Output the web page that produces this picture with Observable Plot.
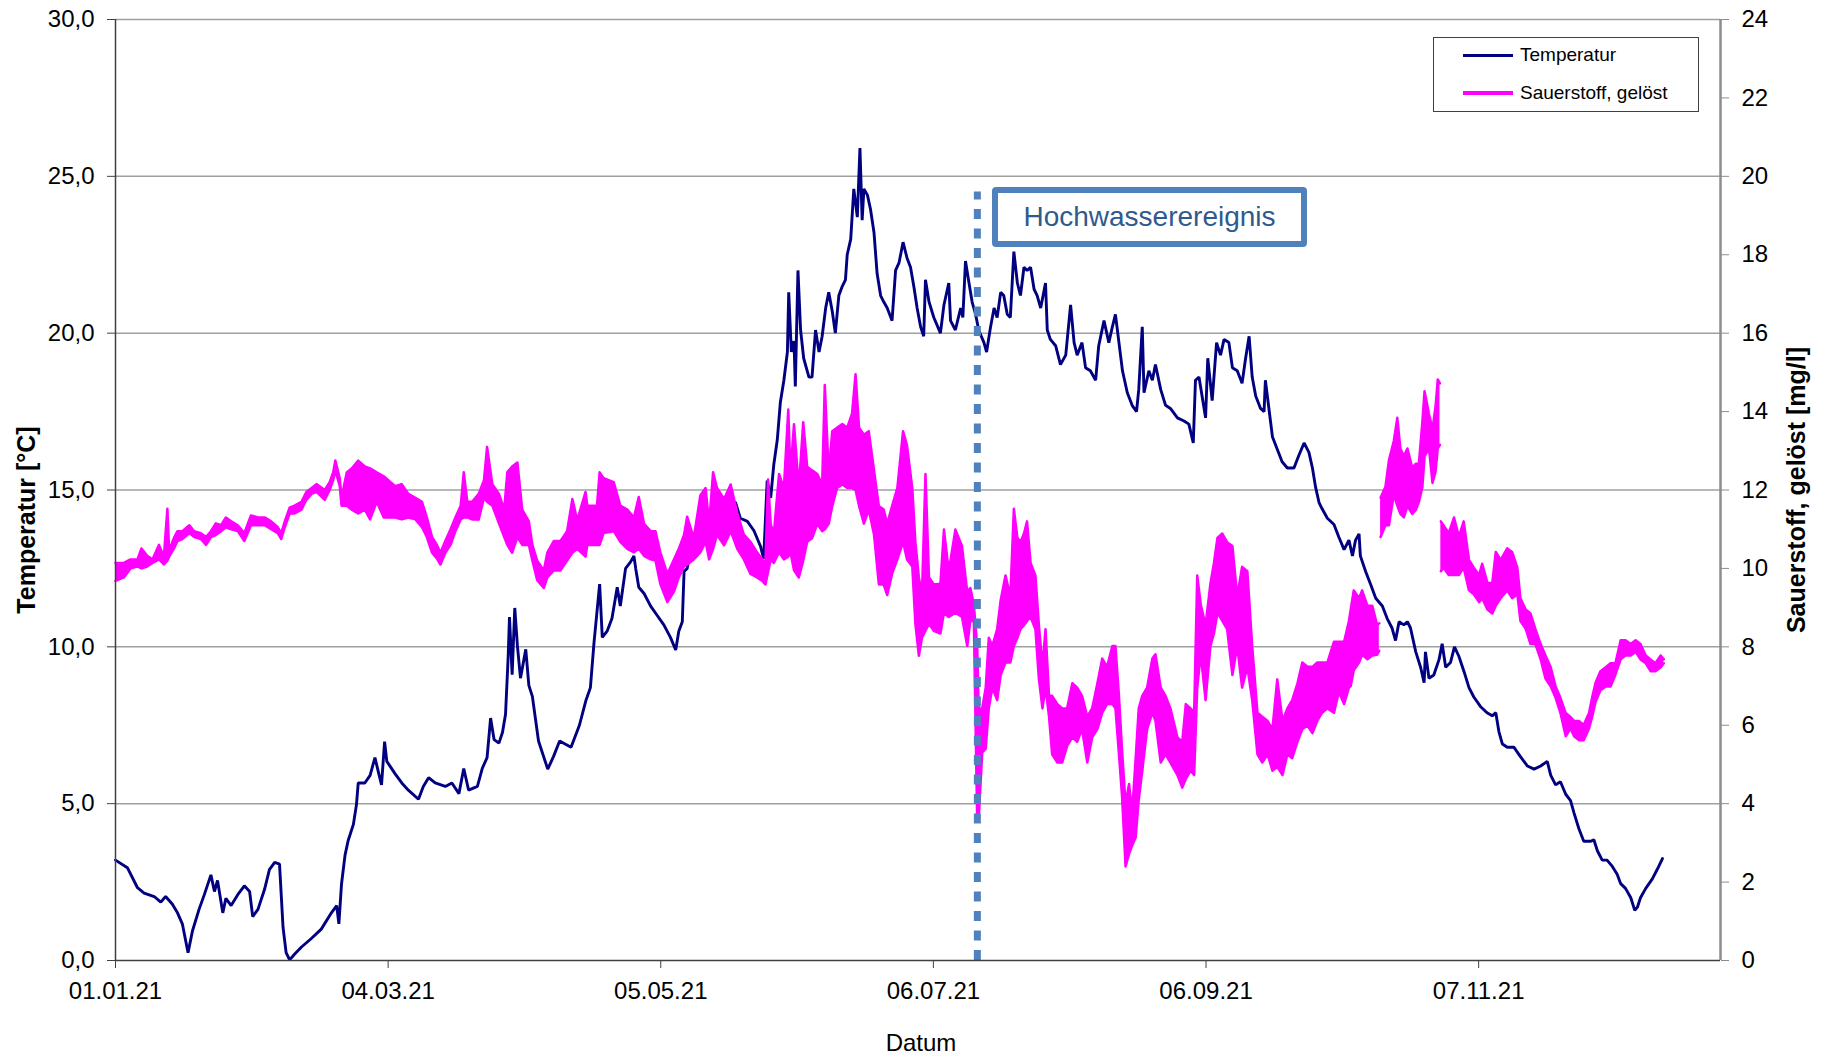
<!DOCTYPE html>
<html><head><meta charset="utf-8">
<script src="https://cdn.jsdelivr.net/npm/d3@7"></script>
<script src="https://cdn.jsdelivr.net/npm/@observablehq/plot@0.6"></script>
<style>
html,body{margin:0;padding:0;background:#fff;}
#wrap{position:relative;width:1825px;height:1057px;font-family:"Liberation Sans",Arial,sans-serif;}
#legend{position:absolute;left:1433px;top:37px;width:264px;height:73px;border:1px solid #404040;background:#fff;}
.sw{position:absolute;left:29px;width:50px;}
.lab{position:absolute;left:86px;font-size:19px;line-height:20px;white-space:nowrap;color:#000;}
#note{position:absolute;left:992px;top:187px;width:303px;height:48px;border:6px solid #4f81bd;border-radius:4px;background:#fff;color:#2f5a8d;font-size:28px;display:flex;align-items:center;justify-content:center;}
</style></head>
<body><div id="wrap"></div>
<script>
// ---- data (day = days after 01.01.2021) ----
const tempDay = [0,2.7,5,6.5,8.8,10.3,11.4,12.9,14.1,15.2,16.5,17.5,19.0,20.2,21.7,22.5,23.2,24.4,25.1,26.3,27.8,29.3,30.5,31.2,32.4,33.9,35,36.2,37.3,38.1,38.8,39.6,40.7,42.3,44.6,46.8,49.1,50.3,50.8,51.4,52.2,52.9,54.1,54.8,55.2,56.7,57.9,59,59.8,60.5,61.2,61.7,63.6,65.1,66.6,68.9,70,71.2,72.7,75,76.5,78.1,79.2,80.3,82.3,83.4,84.5,85.3,86.1,87.2,88,88.7,89.3,89.6,90.2,90.8,91.4,92.1,93.3,94.0,94.8,96.2,98.3,99.6,101,103.6,105.5,107,108,108.8,110.1,110.7,111.8,112.9,114.1,114.8,116.0,117.1,117.9,118.3,119.0,120.2,121.7,123.2,124.7,126.2,127.4,128.1,128.9,129.3,130.0,131.1,131.9,133.4,134.6,135.3,137,139,141.0,142.1,143.7,145.2,146.7,147.4,148.2,149.0,149.7,150.5,151.2,152.0,152.8,153.1,153.7,154.3,154.6,155.2,155.8,156.5,157.7,158.4,159.2,160.0,160.7,161.5,162.2,163.0,163.7,164.5,165.3,166.0,166.4,167.2,167.9,168.7,169.3,169.8,170.2,171.0,171.7,172.5,173.2,174.0,174.7,175.5,176.6,177.4,178.2,179.1,180.0,180.8,181.6,182.3,183.1,183.8,184.2,185.0,186.1,187.6,188.4,189.5,189.9,191.0,192.2,192.7,193.3,194.1,194.8,195.6,196.3,197.5,198.1,199.0,199.8,200.5,201.3,202.0,202.8,203.5,204.3,205.1,205.8,206.6,207.3,208.1,208.9,209.6,210.4,211.5,211.9,212.6,213.8,214.9,216.1,217.2,218.0,218.7,219.8,220.6,221.7,222.9,223.6,224.8,225.9,226.7,227.4,228.2,229.0,230.1,231.2,232.2,232.7,233.5,233.9,235.0,235.8,236.5,237.7,238.8,239.9,241.5,243.0,244.1,245.1,245.6,246.4,247.1,247.9,248.4,249.4,250.4,251.3,252.1,253.2,254.0,255.1,256.2,257.0,257.8,258.5,259.3,260.4,261.2,261.5,262.3,263.1,264.2,265.3,266.5,268.0,269.1,270.3,271.4,272.2,272.9,273.7,274.4,275.6,277.1,278.2,279.4,280.5,281.3,282.0,282.8,283.1,284.3,285.4,286.6,288.1,289.2,290.3,291.1,291.9,293.0,293.8,294.5,295.7,296.8,297.6,297.9,298.7,299.8,301.0,301.7,302.5,303.6,304.5,305.5,306.7,307.8,308.9,310.4,311.9,313.1,313.9,314.6,315.4,316.5,318.0,319.5,321.1,322.6,324.1,325.6,326.4,327.5,328.6,329.8,330.9,331.7,332.8,333.9,335.5,336.2,337.0,338.1,339.2,340.4,341.5,342.3,343.4,344.6,345.5,346.1,346.8,348.0,349.5,350.6,351.8];
const tempVal = [3.2,2.96,2.32,2.15,2.04,1.86,2.04,1.8,1.52,1.17,0.25,0.94,1.63,2.1,2.73,2.2,2.55,1.52,1.98,1.75,2.1,2.38,2.2,1.4,1.63,2.27,2.9,3.13,3.07,1.06,0.25,0.02,0.2,0.43,0.71,1.0,1.52,1.75,1.17,2.44,3.36,3.82,4.34,4.97,5.66,5.66,5.9,6.47,6.0,5.6,6.98,6.35,5.95,5.66,5.43,5.14,5.55,5.83,5.66,5.55,5.66,5.32,6.12,5.43,5.55,6.12,6.47,7.73,7.04,6.93,7.27,7.85,9.69,10.95,9.11,11.24,10.03,9.0,9.92,8.77,8.42,7.0,6.1,6.5,7.0,6.8,7.5,8.3,8.7,10.1,12.0,10.3,10.5,10.9,11.9,11.3,12.5,12.7,12.9,12.5,11.9,11.7,11.3,11.0,10.7,10.3,9.9,10.5,10.8,12.4,12.5,13.3,13.7,14.0,14.2,14.4,14.2,14.6,14.6,14.1,14.0,13.7,13.2,12.8,15.3,14.75,15.8,16.6,17.8,18.5,19.4,21.3,19.4,19.75,18.3,22.0,20.1,19.2,18.6,18.6,20.1,19.4,19.9,20.8,21.3,20.7,20.0,21.2,21.5,21.7,22.5,23.0,24.6,23.7,25.9,23.6,24.6,24.4,23.95,23.2,21.9,21.2,21.0,20.8,20.4,22.0,22.25,22.9,22.4,22.1,21.45,20.8,20.2,19.9,21.7,21.0,20.5,20.0,20.9,21.6,20.4,20.1,20.8,20.5,22.3,21.6,21.0,20.6,20.1,19.7,19.4,20.2,20.8,20.5,21.3,21.2,20.6,20.5,22.6,21.6,21.2,22.1,22.0,22.1,21.4,21.2,20.8,21.6,20.1,19.8,19.6,19.0,19.3,20.9,19.7,19.3,19.7,18.9,18.8,18.5,19.6,20.4,19.7,20.2,20.6,19.7,18.8,18.1,17.7,17.5,18.2,20.2,18.1,18.8,18.5,19.0,18.2,17.7,17.6,17.3,17.2,17.1,16.5,18.5,18.6,18.0,17.3,19.2,17.85,19.7,19.3,19.8,19.7,18.9,18.8,18.4,19.2,19.9,18.6,18.0,17.6,17.5,18.5,17.6,16.7,16.3,15.9,15.7,15.7,16.1,16.5,16.2,15.7,15.1,14.6,14.4,14.1,13.9,13.5,13.1,13.4,12.9,13.4,13.6,12.9,12.4,12.0,11.55,11.3,10.9,10.6,10.2,10.8,10.7,10.8,10.6,9.84,9.35,8.86,9.84,9.0,9.1,9.6,10.1,9.35,9.5,10.0,9.7,9.2,8.7,8.4,8.1,7.9,7.8,7.9,7.3,6.9,6.8,6.8,6.5,6.2,6.1,6.2,6.35,5.9,5.6,5.7,5.3,5.1,4.7,4.2,3.8,3.8,3.85,3.5,3.2,3.2,3.0,2.75,2.45,2.3,2.0,1.6,1.7,2.0,2.3,2.6,2.9,3.25];

// dissolved oxygen: daily low / high envelope
const oxDay = [0,1.9,3.4,5,5.9,7.2,8.4,9.9,11,11.8,12.2,13.3,14.1,15.2,16.8,17.9,19.4,20.6,21.7,22.8,24.0,25.1,26.3,27.8,29.3,30.8,32.4,33.9,35.4,36.9,37.7,38.5,39.6,40.7,42.3,43.4,44.6,45.7,47.6,48.7,49.5,50.0,51.0,51.4,52.6,53.7,55.2,56.7,57.9,59.4,61.0,63.6,65.1,66.6,68.2,69.7,70.8,72.0,73.1,73.9,75.0,76.2,77.3,78.5,79.2,80.0,81.1,82.6,83.8,84.5,85.7,87.2,88.4,89.1,90.2,91.4,92.5,94.0,94.8,95.9,97.4,98.2,99.7,101.2,102.7,103.9,105.0,106.9,107.3,109.5,110.1,111.0,113.3,114.8,116.4,117.9,119.0,120.2,121.7,122.8,123.9,125.5,127.0,128.1,129.3,130.0,131.5,133.0,134.2,135.0,135.9,136.8,138.4,139.9,141.4,142.9,144.4,145.9,147.1,147.8,148.4,149.0,149.7,150.9,152.0,153.0,153.5,154.3,155.4,156.4,157.3,158.4,159.6,160.7,161.3,162.2,163.0,164.1,165.3,166.4,167.5,168.3,169.1,170.2,171.3,172.5,173.6,174.7,175.5,176.6,177.8,179.1,180.0,181.2,181.9,182.7,183.4,184.2,185.0,186.1,187.6,188.4,189.5,191.0,192.5,193.7,194.4,195.2,195.96,196.3,197.1,197.9,198.6,199.4,200.5,201.3,202.4,203.5,204.3,205.1,205.8,206.6,207.3,208.1,209.2,210.0,210.8,211.5,212.3,213.0,214.2,215.3,216.4,217.6,218.7,219.8,221.0,222.1,223.3,224.4,225.5,226.7,227.4,228.2,228.9,229.7,230.5,231.2,232.0,232.7,233.5,234.6,235.8,236.5,237.7,238.8,239.9,241.5,242.6,243.4,244.5,245.3,246.0,246.8,247.9,249.0,249.8,250.6,251.7,252.8,254.0,255.1,256.2,257.4,258.5,259.7,260.8,262.0,263.1,264.2,265.4,266.5,267.6,268.8,269.9,271.0,272.2,273.3,274.4,275.6,277.1,278.2,279.4,280.5,280.9,281.6,282.8,283.5,284.7,285.8,286.9,287.4,
 287.7,288.8,289.6,290.7,291.5,292.2,293.0,293.8,294.9,295.7,296.4,297.2,297.7,298.7,299.5,300.2,300.7,301.2,
 301.4,302.0,303.2,304.4,305.5,306.6,307.8,308.9,310.1,310.8,312.0,313.1,313.9,315.0,316.5,317.6,318.8,319.5,320.7,321.8,322.9,324.1,325.2,326.4,327.5,328.6,329.8,330.9,331.7,332.8,333.9,335.1,335.8,336.6,337.7,338.9,340.0,341.1,342.3,343.4,344.6,345.7,346.8,348.0,349.1,350.2,351.4,352.1];
const oxLow = [9.68,9.77,10.0,10.05,10.0,10.05,10.14,10.23,10.1,10.2,10.3,10.51,10.7,10.75,10.9,10.8,10.75,10.6,10.8,10.85,10.95,11.05,11.0,10.95,10.7,11.1,11.1,11.1,11.0,10.9,10.75,11.05,11.4,11.4,11.5,11.75,11.9,11.95,11.75,12.0,12.25,12.5,12.1,11.6,11.6,11.5,11.4,11.5,11.25,11.7,11.3,11.3,11.25,11.3,11.25,11.05,10.8,10.4,10.25,10.1,10.4,10.6,10.95,11.25,11.3,11.3,11.25,11.25,11.8,11.7,11.6,11.15,10.8,10.6,10.4,10.8,10.6,10.6,10.2,9.7,9.5,9.77,9.95,9.95,10.2,10.4,10.5,10.3,10.6,10.6,10.6,10.9,10.95,10.68,10.5,10.41,10.5,10.32,10.23,10.2,9.6,9.14,9.41,9.77,10.05,10.1,10.23,10.41,10.68,10.23,10.5,10.86,10.59,10.95,10.5,10.23,9.86,9.77,9.68,9.59,9.9,10.23,10.14,10.41,10.23,10.3,10.41,9.95,9.77,10.2,10.68,10.77,11.14,10.95,11.0,11.14,11.59,12.05,12.14,12.05,12.05,12.0,11.59,11.14,11.5,10.86,9.59,9.59,9.32,9.86,10.23,10.68,10.23,10.05,8.59,7.77,8.23,8.41,8.59,8.41,8.34,8.87,8.76,8.87,8.76,8.02,8.66,8.66,3.56,3.6,5.3,5.4,6.43,6.96,6.64,7.28,7.6,7.6,8.02,8.23,8.45,8.55,8.66,8.76,8.45,7.17,6.43,6.96,6.22,5.26,5.05,5.05,5.47,5.69,5.58,5.9,5.05,5.69,5.9,6.32,6.54,6.54,6.43,5.26,4.2,2.4,2.72,2.93,3.14,4.1,4.84,5.9,6.32,6.11,5.05,5.26,5.05,4.73,4.41,4.63,4.84,4.73,6.96,7.81,6.64,8.02,8.34,8.87,8.66,8.45,7.28,8.02,6.96,7.49,6.64,5.26,5.05,5.26,4.84,4.94,4.73,5.26,5.16,5.58,5.9,6.0,5.8,6.11,6.32,6.43,6.32,6.85,6.54,6.96,7.0,7.4,7.6,7.8,7.68,7.78,7.8,7.9,
 10.8,11.1,11.1,11.88,11.6,11.39,11.3,11.59,11.39,11.49,11.69,12.08,12.86,13.06,12.18,12.47,13.06,13.15,
 9.93,10.02,9.83,9.83,9.83,10.02,9.44,9.34,9.14,9.24,8.95,8.85,9.05,9.24,9.44,9.24,9.34,8.66,8.46,8.07,8.07,7.68,7.19,6.99,6.7,6.31,5.72,5.92,5.72,5.62,5.62,5.92,6.21,6.6,6.89,6.99,6.99,7.29,7.68,7.78,7.78,7.87,7.68,7.58,7.38,7.38,7.48,7.58];
const oxHigh = [10.14,10.14,10.23,10.23,10.51,10.32,10.23,10.6,10.3,11.52,10.45,10.78,10.95,10.95,11.1,10.95,10.9,10.8,10.95,11.15,11.1,11.3,11.2,11.1,10.9,11.35,11.3,11.3,11.2,11.05,10.9,11.2,11.55,11.6,11.7,11.95,12.05,12.15,12.0,12.2,12.45,12.75,12.3,11.8,12.45,12.55,12.75,12.6,12.55,12.45,12.35,12.1,12.15,11.9,11.8,11.7,11.3,10.8,10.6,10.4,10.7,11.0,11.3,11.6,12.45,11.7,11.7,11.9,12.25,13.1,12.15,11.9,11.5,12.45,12.6,12.7,11.5,11.2,10.6,10.2,9.95,10.4,10.7,10.7,10.95,11.77,11.23,11.95,11.6,11.6,12.45,12.3,12.2,11.6,11.5,11.3,11.82,11.14,10.95,10.95,10.41,9.86,10.23,10.5,10.86,11.32,10.77,11.86,12.05,11.14,12.45,12.05,11.77,12.14,11.41,10.86,10.68,10.41,10.23,10.1,12.27,11.14,10.86,12.41,12.05,14.05,12.41,13.68,12.05,13.73,12.59,12.5,12.41,12.14,14.68,12.41,13.5,13.59,13.68,13.59,13.95,14.95,13.59,13.41,13.5,12.5,11.59,11.5,11.14,11.59,12.05,13.5,13.14,12.05,10.68,9.77,9.32,12.41,9.77,9.59,9.61,10.99,9.93,10.99,10.57,9.4,9.5,9.08,8.02,6.43,6.43,6.96,8.23,8.02,8.45,9.19,9.82,9.29,11.52,10.78,10.67,10.89,11.2,10.14,9.82,8.55,7.49,8.45,6.75,6.75,6.54,6.43,6.43,7.07,6.96,6.75,6.22,6.43,7.07,7.7,7.49,8.02,8.02,6.75,5.37,3.99,4.5,3.78,5.16,6.43,6.75,6.96,7.7,7.81,6.96,6.75,6.43,5.69,5.58,6.54,6.43,6.32,9.82,9.08,8.55,9.61,10.14,10.78,10.89,10.67,10.57,9.29,10.04,9.93,8.02,6.32,6.22,6.11,5.9,7.17,6.11,6.43,6.64,7.07,7.6,7.5,7.49,7.6,7.6,7.6,8.13,8.13,8.13,8.66,8.95,9.44,9.24,9.44,9.05,9.05,8.56,8.6,
 11.8,12.08,12.76,13.25,13.84,13.06,12.86,13.06,12.57,12.67,12.67,13.74,14.52,13.94,13.55,14.13,14.82,14.72,
 11.2,11.1,10.9,11.3,10.81,11.2,10.22,10.02,9.83,10.12,9.63,9.63,10.42,10.22,10.51,10.42,10.02,9.24,8.95,8.85,8.46,8.07,7.78,7.48,6.99,6.7,6.31,6.21,6.11,6.11,6.01,6.31,6.7,7.09,7.38,7.48,7.58,7.58,8.17,8.17,8.07,8.17,8.07,7.78,7.68,7.58,7.78,7.68];
const oxBreaks = [287.55, 301.3]; // sensor record restarts

const tempTicks = [0,5,10,15,20,25,30];
const oxTicks = [0,2,4,6,8,10,12,14,16,18,20,22,24];
const xTicks = ["2021-01-01","2021-03-04","2021-05-05","2021-07-06","2021-09-06","2021-11-07"];
const xDomain = ["2021-01-01","2022-01-01"];
const eventDay = 196;     // Hochwasser, 15./16.07.2021
const eventTop = 24.5;    // top of the dotted marker, °C scale
const seriesNames = ["Temperatur","Sauerstoff, gelöst"];
const seriesColors = ["#000080","#ff00ff"];
const eventLabel = "Hochwasserereignis";

// ---- build ----
const k = 30/24; // oxygen axis -> temperature axis
const t0 = Date.UTC(2021,0,1);
const toDate = d => new Date(t0 + d*864e5);
const utc = s => new Date(s + "T00:00:00Z");
const tempRows = tempDay.map((d,i)=>({date: toDate(d), value: tempVal[i]}));
const oxRows = oxDay.map((d,i)=>({date: toDate(d), lo: oxLow[i]*k, hi: oxHigh[i]*k, seg: oxBreaks.filter(b=>d>b).length}));
const comma1 = v => v.toFixed(1).replace(".", ",");

const chart = Plot.plot({
  width: 1825, height: 1057,
  marginTop: 19, marginRight: 105, marginBottom: 97, marginLeft: 115,
  style: {fontFamily: "'Liberation Sans', Arial, sans-serif", fontSize: "24px", color: "#000", background: "#fff", overflow: "visible"},
  x: {type: "utc", domain: xDomain.map(utc)},
  y: {domain: [0, 30]},
  marks: [
    Plot.ruleY(tempTicks.filter(v=>v>0), {stroke: "#a0a0a0", strokeWidth: 1.5}),
    Plot.line(tempRows, {x: "date", y: "value", stroke: seriesColors[0], strokeWidth: 2.9, strokeLinejoin: "miter"}),
    Plot.areaY(oxRows, {x: "date", y1: "lo", y2: "hi", z: "seg", fill: seriesColors[1]}),
    Plot.lineY(oxRows, {x: "date", y: "lo", z: "seg", stroke: seriesColors[1], strokeWidth: 2.5}),
    Plot.lineY(oxRows, {x: "date", y: "hi", z: "seg", stroke: seriesColors[1], strokeWidth: 2.5}),
    Plot.ruleX([toDate(eventDay)], {y1: 0, y2: eventTop, stroke: "#4f81bd", strokeWidth: 7, strokeDasharray: "10,9.5"}),
    Plot.ruleY([0], {stroke: "#404040", strokeWidth: 1.5}),
    Plot.ruleX([utc(xDomain[0])], {stroke: "#404040", strokeWidth: 1.5}),
    Plot.ruleX([utc(xDomain[1])], {stroke: "#8c8c8c", strokeWidth: 2.5}),
    Plot.axisY(tempTicks, {anchor: "left", tickFormat: comma1, tickSize: 8, tickPadding: 13, stroke: "#404040", fill: "#000", fontSize: 24, label: null}),
    Plot.axisY(oxTicks.map(v=>v*k), {anchor: "right", tickFormat: v => String(Math.round(v/k)), tickSize: 8, tickPadding: 13, stroke: "#8c8c8c", fill: "#000", fontSize: 24, label: null}),
    Plot.axisX(xTicks.map(utc), {anchor: "bottom", tickFormat: d3.utcFormat("%d.%m.%y"), tickSize: 8, tickPadding: 13, stroke: "#404040", fill: "#000", fontSize: 24, label: null}),
    Plot.text(["Temperatur [°C]"], {frameAnchor: "left", text: d=>d, textAnchor: "middle", rotate: -90, dx: -89, dy: 30, fontWeight: "bold", fontSize: 25, fill: "#000"}),
    Plot.text(["Sauerstoff, gelöst [mg/l]"], {frameAnchor: "right", text: d=>d, textAnchor: "middle", rotate: -90, dx: 76, dy: 0, fontWeight: "bold", fontSize: 25, fill: "#000"}),
    Plot.text(["Datum"], {frameAnchor: "bottom", text: d=>d, dx: 3, dy: 90, fontSize: 24, fill: "#000"})
  ]
});
const wrap = document.getElementById("wrap");
wrap.appendChild(chart);

// legend
const leg = document.createElement("div");
leg.id = "legend";
const rowsTop = [17, 55];
seriesNames.forEach((name, i) => {
  const sw = document.createElement("div");
  sw.className = "sw";
  const h = i === 0 ? 3 : 4;
  sw.style.top = (rowsTop[i] - h/2) + "px";
  sw.style.height = h + "px";
  sw.style.background = seriesColors[i];
  const lab = document.createElement("div");
  lab.className = "lab";
  lab.style.top = (rowsTop[i] - 10) + "px";
  lab.textContent = name;
  leg.appendChild(sw); leg.appendChild(lab);
});
wrap.appendChild(leg);

// annotation
const note = document.createElement("div");
note.id = "note";
note.textContent = eventLabel;
wrap.appendChild(note);
</script>
</body></html>
